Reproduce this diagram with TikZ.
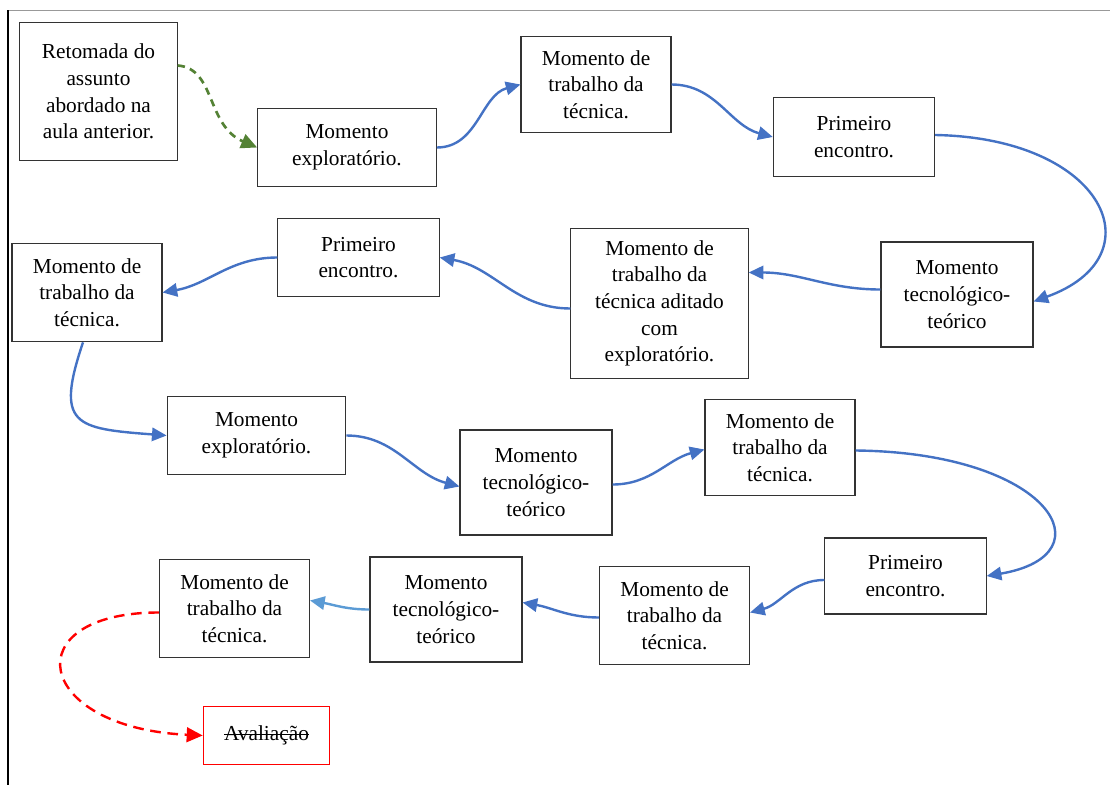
\documentclass[tikz,border=0pt]{standalone}
\usepackage{fontspec}
\setmainfont{Liberation Serif}
\usetikzlibrary{arrows.meta,calc}

\definecolor{azul}{RGB}{68,114,196}
\definecolor{azulclaro}{RGB}{91,155,213}
\definecolor{verde}{RGB}{84,130,53}
% struck-through text
\newcommand{\riscar}[1]{\setbox0\hbox{#1}\rlap{\rule[0.27em]{\wd0}{0.6pt}}\box0}

\begin{document}
\begin{tikzpicture}[
  x=0.75pt, y=-0.75pt,
  box/.style={draw=black!80, line width=0.8pt, align=center, inner sep=2pt, font=\rmfamily\fontsize{16}{20}\selectfont},
  trabbox/.style={box, minimum width=112.5pt, minimum height=72pt},
  teobox/.style={box, minimum width=114pt, minimum height=78.75pt},
  encbox/.style={box, minimum width=121pt, minimum height=59pt},
  expbox/.style={box, minimum width=134pt, minimum height=59pt},
  arr/.style={-{Triangle[length=11pt,width=10pt]}, line width=1.8pt, draw=azul},
  arrclaro/.style={arr, draw=azulclaro},
  arrverde/.style={-{Triangle[length=12pt,width=11pt]}, line width=2pt, draw=verde, dash pattern=on 5.5pt off 4pt},
  arrverm/.style={-{Triangle[length=12pt,width=11pt]}, line width=1.8pt, draw=red, dash pattern=on 8pt off 5pt}
]
\useasboundingbox (0,0) rectangle (1110,785);
% page frame
\draw[black!40, line width=0.6pt] (8,10) -- (1110,10);
\draw[line width=1.5pt] (8,10) -- (8,785);

% first row
\node[box, minimum width=118pt, minimum height=104pt] (retomada) at (98.5,91.5) {Retomada do\\assunto\\abordado na\\aula anterior.};
\node[expbox] (explA) at (347,147.5) {Momento\\exploratório.};
\node[trabbox] (trabA) at (596,84.5) {Momento de\\trabalho da\\técnica.};
\node[encbox] (primA) at (854,137) {Primeiro\\encontro.};

% second row
\node[teobox] (tecA) at (957,294.5) {Momento\\tecnológico-\\teórico};
\node[box, minimum width=133pt, minimum height=112pt] (trabAdit) at (659.5,303.5) {Momento de\\trabalho da\\técnica aditado\\com\\exploratório.};
\node[encbox] (primB) at (358.5,257.5) {Primeiro\\encontro.};
\node[trabbox, minimum height=74pt] (trabB) at (87,292.5) {Momento de\\trabalho da\\técnica.};

% third row
\node[expbox] (explB) at (256.5,435.5) {Momento\\exploratório.};
\node[teobox] (tecB) at (536,482.5) {Momento\\tecnológico-\\teórico};
\node[trabbox] (trabC) at (780,447.5) {Momento de\\trabalho da\\técnica.};

% fourth row
\node[encbox, minimum height=57pt] (primC) at (905.5,576) {Primeiro\\encontro.};
\node[trabbox, minimum height=73pt] (trabD) at (674.5,615.5) {Momento de\\trabalho da\\técnica.};
\node[teobox] (tecC) at (446,609.5) {Momento\\tecnológico-\\teórico};
\node[trabbox, minimum height=73pt] (trabE) at (234.5,608.5) {Momento de\\trabalho da\\técnica.};
\node[box, draw=red, line width=0.7pt, minimum width=95pt, minimum height=43pt] (aval) at (266.5,735.5) {\riscar{Avaliação}};

% connectors
\draw[arrverde] ($(retomada.east)+(0,-26)$) .. controls +(38,3) and +(-51,-22) .. (explA.west);
\draw[arr] (explA.east) to[out=0,in=195] (trabA.west);
\draw[arr] (trabA.east) to[out=0,in=165] (primA.west);
\draw[arr] ($(primA.east)+(0,-2)$) .. controls +(170,3) and +(125,-45) .. ($(tecA.east)+(0,7)$);
\draw[arr] ($(tecA.west)+(0,-5)$) to[out=180,in=0] ($(trabAdit.east)+(0,-31)$);
\draw[arr] ($(trabAdit.west)+(0,5)$) to[out=180,in=-10] (primB.east);
\draw[arr] (primB.west) to[out=180,in=10] (trabB.east);
\draw[arr] ($(trabB.south)+(-4,0)$) .. controls +(-28,83) and +(-92,-7) .. (explB.west);
\draw[arr] (explB.east) to[out=0,in=165] ($(tecB.west)+(0,4)$);
\draw[arr] ($(tecB.east)+(0,2)$) to[out=0,in=195] ($(trabC.west)+(0,2)$);
\draw[arr] ($(trabC.east)+(0,3)$) .. controls +(195,2) and +(124,-21) .. (primC.east);
\draw[arr] ($(primC.west)+(0,4)$) to[out=180,in=15] ($(trabD.east)+(0,-3)$);
\draw[arr] ($(trabD.west)+(0,2)$) to[out=180,in=-10] ($(tecC.east)+(0,-7)$);
\draw[arrclaro] (tecC.west) to[out=180,in=-10] ($(trabE.east)+(0,-8)$);
\draw[arrverm] ($(trabE.west)+(0,4)$) .. controls +(-145,0) and +(-170,-8) .. (aval.west);
\end{tikzpicture}
\end{document}
